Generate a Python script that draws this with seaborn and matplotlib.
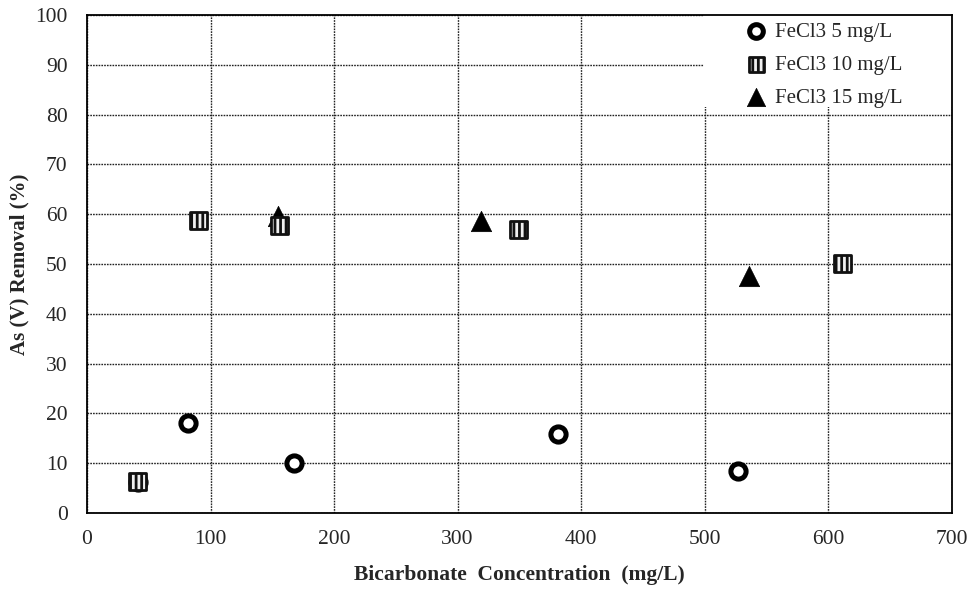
import matplotlib
matplotlib.use("Agg")
import matplotlib.pyplot as plt
from matplotlib.patches import Rectangle
import seaborn as sns
import pandas as pd

# Data
x_5 = [41, 82, 168, 381, 527]
y_5 = [6.2, 18.0, 10.0, 15.8, 8.4]
x_10 = [41, 90, 156, 349, 612]
y_10 = [6.4, 58.8, 57.8, 57.0, 50.2]
x_15 = [155, 319, 536]
y_15 = [59.6, 58.6, 47.6]
labels = ["FeCl3 5 mg/L", "FeCl3 10 mg/L", "FeCl3 15 mg/L"]
x_ticks = [0, 100, 200, 300, 400, 500, 600, 700]
y_ticks = [0, 10, 20, 30, 40, 50, 60, 70, 80, 90, 100]

sns.set_style("white")
plt.rcParams['font.family'] = ['Liberation Serif', 'DejaVu Serif']
plt.rcParams['hatch.linewidth'] = 2.0
plt.rcParams['hatch.color'] = '#555555'

fig = plt.figure(figsize=(9.73, 5.92), dpi=100)
ax = fig.add_axes([0.0894, 0.1334, 0.8886, 0.8413])

d5 = pd.DataFrame({"x": x_5, "y": y_5})
d10 = pd.DataFrame({"x": x_10, "y": y_10})
d15 = pd.DataFrame({"x": x_15, "y": y_15})

sns.scatterplot(data=d5, x="x", y="y", ax=ax, marker="o", s=120,
                facecolor="white", edgecolor="black", linewidth=3.6,
                label=labels[0], zorder=3)
sns.scatterplot(data=d15, x="x", y="y", ax=ax, marker="^", s=215,
                color="black", edgecolor="black", linewidth=0.5,
                label=labels[2], zorder=4)
sns.scatterplot(data=d10, x="x", y="y", ax=ax, marker="s", s=150,
                facecolor="#f0f0f0", edgecolor="#111111", linewidth=2.0,
                hatch="|||", label=labels[1], zorder=5)

ax.set_xlim(0, 700)
ax.set_ylim(0, 100)
ax.set_xticks(x_ticks)
ax.set_yticks(y_ticks)
ax.tick_params(axis='both', labelsize=15.5, length=0)
ax.tick_params(axis='x', pad=12)
ax.tick_params(axis='y', pad=14)
ax.grid(True, color='#222222', linestyle=(0, (1.2, 0.8)), linewidth=1.0)
ax.set_axisbelow(True)
for sp in ax.spines.values():
    sp.set_color('black')
    sp.set_linewidth(1.3)

ax.set_xlabel("Bicarbonate  Concentration  (mg/L)", fontsize=15.5,
              fontweight='bold', labelpad=12)
ax.set_ylabel("As (V) Removal (%)", fontsize=15, fontweight='bold',
              labelpad=4)

# white legend area (hides grid behind the legend, like the original)
ax.add_patch(Rectangle((0.714, 0.815), 0.286, 0.185, transform=ax.transAxes,
                       facecolor='white', edgecolor='none', zorder=1))

h, l = ax.get_legend_handles_labels()
order = [l.index(lab) for lab in labels]
leg = ax.legend([h[i] for i in order], [l[i] for i in order],
                loc='upper left', bbox_to_anchor=(0.762, 0.986),
                fontsize=15, frameon=False, handlelength=1.0,
                handletextpad=0.4, borderpad=0.0, borderaxespad=0.0,
                labelspacing=0.65, markerscale=0.9)

fig.savefig("out.png", dpi=100)
